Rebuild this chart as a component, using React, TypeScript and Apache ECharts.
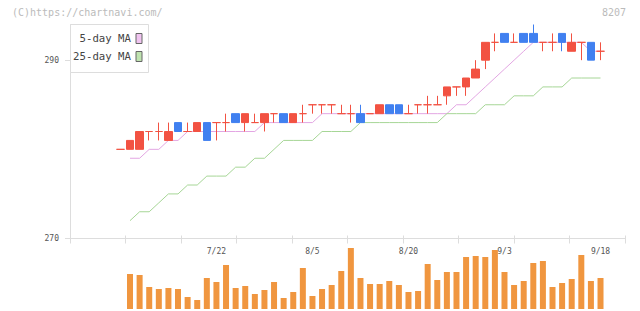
import React, { useEffect, useRef } from "react";
import * as echarts from "echarts";

const dates = [
  "7/5", "7/8", "7/9", "7/10", "7/11", "7/12", "7/16", "7/17", "7/18", "7/19",
  "7/22", "7/23", "7/24", "7/25", "7/26", "7/29", "7/30", "7/31", "8/1", "8/2",
  "8/5", "8/6", "8/7", "8/8", "8/9", "8/13", "8/14", "8/15", "8/16", "8/19",
  "8/20", "8/21", "8/22", "8/23", "8/26", "8/27", "8/28", "8/29", "8/30", "9/2",
  "9/3", "9/4", "9/5", "9/6", "9/9", "9/10", "9/11", "9/12", "9/13", "9/17",
  "9/18",
];
const opens = [
  280, 280, 280, 282, 282, 281, 283, 282, 282, 283,
  283, 283, 284, 283, 283, 283, 284, 284, 283, 284,
  285, 285, 285, 284, 284, 284, 284, 284, 285, 285,
  284, 285, 285, 285, 286, 287, 287, 288, 290, 292,
  293, 292, 293, 293, 292, 292, 293, 291, 292, 292,
  291,
];
const closes = [
  280, 281, 282, 282, 282, 282, 282, 282, 283, 281,
  283, 283, 283, 284, 283, 284, 284, 283, 284, 284,
  285, 285, 285, 284, 284, 283, 284, 285, 284, 284,
  284, 285, 285, 285, 287, 287, 288, 289, 292, 292,
  292, 292, 292, 292, 292, 292, 292, 292, 292, 290,
  291,
];
const lows = [
  280, 280, 280, 281, 281, 281, 282, 282, 282, 281,
  281, 282, 283, 282, 283, 282, 283, 283, 283, 283,
  284, 284, 284, 284, 283, 283, 284, 284, 284, 284,
  284, 284, 284, 285, 285, 286, 286, 288, 289, 291,
  292, 292, 292, 292, 291, 291, 291, 291, 290, 290,
  290,
];
const highs = [
  280, 281, 282, 282, 283, 283, 283, 283, 283, 283,
  283, 284, 284, 284, 284, 284, 284, 284, 284, 285,
  285, 285, 285, 285, 285, 285, 284, 285, 285, 285,
  285, 285, 286, 286, 287, 287, 288, 290, 292, 293,
  293, 293, 293, 294, 292, 293, 293, 293, 292, 292,
  292,
];
const ma5 = [
  null, 279, 279, 280, 280, 281, 281, 282, 282, 282,
  282, 282, 282, 282, 282, 283, 283, 283, 283, 283,
  283, 284, 284, 284, 284, 284, 284, 284, 284, 284,
  284, 284, 284, 284, 284, 285, 285, 286, 287, 288,
  289, 290, 291, 292, 292, 292, 292, 292, 292, 291,
  291,
];
const ma25 = [
  null, 272, 273, 273, 274, 275, 275, 276, 276, 277,
  277, 277, 278, 278, 279, 279, 280, 281, 281, 281,
  281, 282, 282, 282, 282, 283, 283, 283, 283, 283,
  283, 283, 283, 283, 284, 284, 284, 284, 285, 285,
  285, 286, 286, 286, 287, 287, 287, 288, 288, 288,
  288,
];
const volume = [
  null, 35, 34, 22, 20, 21, 20, 12, 9, 31,
  27, 44, 21, 23, 15, 19, 27, 11, 17, 41,
  13, 20, 24, 38, 61, 31, 25, 25, 28, 24,
  17, 18, 45, 29, 37, 37, 52, 53, 52, 59,
  37, 24, 28, 46, 48, 22, 26, 30, 54, 28,
  31,
];
const priceTicks = [270, 290];
const dateTicks = [10, 20, 30, 40, 50];

const FONT = "'DejaVu Sans Mono', monospace";
const UP = "#f25242";
const DOWN = "#4080f0";
const AXIS = "#dddddd";
const X_MIN = -5.25;
const X_MAX = 52.55;

export default function App() {
  const ref = useRef<HTMLDivElement>(null);
  useEffect(() => {
    document.body.style.margin = "0";
    const chart = echarts.init(ref.current as HTMLDivElement, null, { renderer: "svg" });
    const idx = dates.map((_, i) => i);
    const option: any = {
      animation: false,
      backgroundColor: "#ffffff",
      grid: [
        { left: 70, right: 15, top: 24.5, bottom: 72.5, outerBoundsMode: "none" },
        { left: 70, right: 15, top: 245, bottom: 2, outerBoundsMode: "none" },
      ],
      xAxis: [
        {
          type: "value", gridIndex: 0, min: X_MIN, max: X_MAX, position: "bottom",
          axisLine: { show: true, onZero: false, lineStyle: { color: AXIS, width: 1 } },
          axisTick: { show: false },
          splitLine: { show: false },
          axisLabel: {
            customValues: dateTicks,
            formatter: (v: number) => dates[Math.round(v)] || "",
            margin: 9, fontSize: 8, color: "#555", fontFamily: FONT,
          },
        },
        {
          type: "value", gridIndex: 0, min: 0, max: 10, interval: 1, position: "bottom", offset: -3,
          axisLine: { show: false, onZero: false },
          axisTick: { show: true, length: 8, lineStyle: { color: AXIS } },
          axisLabel: { show: false },
          splitLine: { show: false },
        },
        {
          type: "value", gridIndex: 1, min: X_MIN, max: X_MAX, show: false,
          axisLine: { onZero: false },
          splitLine: { show: false },
        },
      ],
      yAxis: [
        {
          type: "value", gridIndex: 0, min: 270, max: 294, position: "left",
          axisLine: { show: true, onZero: false, lineStyle: { color: AXIS, width: 1 } },
          axisTick: { show: true, length: 5, customValues: priceTicks, lineStyle: { color: AXIS } },
          axisLabel: { customValues: priceTicks, margin: 11, fontSize: 8, color: "#555", fontFamily: FONT },
          splitLine: { show: false },
        },
        {
          type: "value", gridIndex: 1, min: 0, max: 64, show: false,
          axisLine: { onZero: false }, splitLine: { show: false },
        },
      ],
      legend: [
        {
          data: [{ name: "5-day MA", itemStyle: { color: "#f0c4f0", borderColor: "#666", borderWidth: 1 } }],
          right: 497.5, top: 33, orient: "horizontal", align: "right", icon: "rect",
          itemWidth: 6, itemHeight: 10, padding: 0, selectedMode: false, z: 6,
          textStyle: { fontFamily: FONT, fontSize: 10.7, color: "#444" },
        },
        {
          data: [{ name: "25-day MA", itemStyle: { color: "#bfe3b0", borderColor: "#666", borderWidth: 1 } }],
          right: 497.5, top: 51, orient: "horizontal", align: "right", icon: "rect",
          itemWidth: 6, itemHeight: 10, padding: 0, selectedMode: false, z: 6,
          textStyle: { fontFamily: FONT, fontSize: 10.7, color: "#444" },
        },
      ],
      graphic: [
        {
          type: "rect", z: 5,
          shape: { x: 70.5, y: 24.5, width: 78, height: 48 },
          style: { fill: "#ffffff", stroke: "#dddddd", lineWidth: 1 },
        },
        {
          type: "text", left: 12, top: 7, z: 5,
          style: { text: "(C)https://chartnavi.com/", fill: "#bbbbbb", font: `10px ${FONT}` },
        },
        {
          type: "text", right: 14, top: 7, z: 5,
          style: { text: "8207", fill: "#bbbbbb", font: `10px ${FONT}` },
        },
      ],
      series: [
        {
          name: "5-day MA", type: "line", xAxisIndex: 0, yAxisIndex: 0,
          data: idx.map((i) => [i, ma5[i]]),
          symbol: "none", showSymbol: false, color: "#e3a6e3",
          lineStyle: { color: "#e3a6e3", width: 1 }, z: 1,
        },
        {
          name: "25-day MA", type: "line", xAxisIndex: 0, yAxisIndex: 0,
          data: idx.map((i) => [i, ma25[i]]),
          symbol: "none", showSymbol: false, color: "#a6d696",
          lineStyle: { color: "#a6d696", width: 1 }, z: 1,
        },
        {
          name: "price", type: "candlestick", xAxisIndex: 0, yAxisIndex: 0,
          barWidth: 8,
          data: idx.map((i) => [i, opens[i], closes[i], lows[i], highs[i]]),
          itemStyle: {
            color: UP, color0: DOWN, borderColor: UP, borderColor0: DOWN,
            borderColorDoji: UP, borderWidth: 1,
          },
          z: 3,
        },
        {
          name: "volume", type: "bar", xAxisIndex: 2, yAxisIndex: 1,
          barWidth: 6,
          data: idx.map((i) => [i, volume[i]]),
          itemStyle: { color: "#f0963f" },
        },
      ],
    };
    chart.setOption(option);
    return () => chart.dispose();
  }, []);
  return <div ref={ref} style={{ width: 640, height: 311 }} />;
}
